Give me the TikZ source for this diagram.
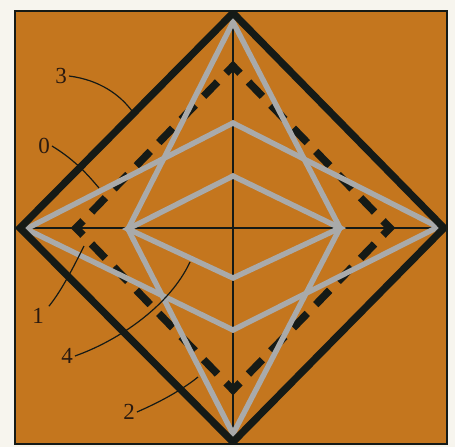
\documentclass[tikz,border=0pt]{standalone}
\usepackage{fontspec}
\setmainfont{Liberation Serif}
\usetikzlibrary{calc}
\definecolor{paper}{HTML}{F7F5EE}
\definecolor{orangebg}{HTML}{C4761E}
\definecolor{lineblack}{HTML}{151A16}
\definecolor{greyline}{HTML}{A9AAAA}
\definecolor{labelc}{HTML}{2A1A10}
\begin{document}
\begin{tikzpicture}[x=1pt,y=-1pt,
  blk/.style={line width=7.2pt, draw=lineblack, line join=miter},
  gry/.style={line width=5.4pt, draw=greyline, line join=miter},
  dsh/.style={line width=7.5pt, draw=lineblack, dash pattern=on 20pt off 12.23pt, dash phase=26.115pt},
  axisline/.style={line width=1.2pt, draw=lineblack},
  lbl/.style={font=\fontsize{23}{23}\selectfont, text=labelc, inner sep=2pt},
  lead/.style={line width=1.2pt, draw=lineblack}]
\useasboundingbox (0,0) rectangle (455,447);
\fill[paper] (0,0) rectangle (455,447);
\fill[orangebg] (15,11) rectangle (447,444);
% vertices
\coordinate (T3) at (233,13);  \coordinate (B3) at (233,442);
\coordinate (L3) at (20,228);  \coordinate (R3) at (444,228);
\coordinate (T2) at (233,22);  \coordinate (B2) at (233,434);
\coordinate (L2) at (128,229); \coordinate (R2) at (340,228);
\coordinate (T1) at (233,123); \coordinate (B1) at (233,330);
\coordinate (L1) at (26,229);  \coordinate (R1) at (438,227);
\coordinate (T4) at (233,176); \coordinate (B4) at (233,278);
\coordinate (T0) at (233,66);  \coordinate (B0) at (233,390);
\coordinate (L0) at (76,228);  \coordinate (R0) at (390,228);
\coordinate (M0) at ($(T0)!0.5!(R0)$);
\begin{scope}
\clip (15,11) rectangle (447,444);
% axes
\draw[axisline] (L3) -- (R3);
\draw[axisline] (T3) -- (B3);
% dashed diamond 0
\draw[dsh] (M0) -- (R0) -- (B0) -- (L0) -- (T0) -- (M0);
% grey shapes
\draw[gry] (L1) -- (T1) -- (R1) -- (B1) -- cycle;
\draw[gry] (L2) -- (T4) -- (R2) -- (B4) -- cycle;
\draw[gry] (L2) -- (T2) -- (R2) -- (B2) -- cycle;
% black diamond 3
\draw[blk] (L3) -- (T3) -- (R3) -- (B3) -- cycle;
\end{scope}
\draw[line width=1.5pt, draw=lineblack] (15,11) rectangle (447,444);
% labels
\node[lbl] (lab3) at (61,76) {3};
\node[lbl] (lab0) at (44,146) {0};
\node[lbl] (lab1) at (38,316) {1};
\node[lbl] (lab4) at (67,356) {4};
\node[lbl] (lab2) at (129,412) {2};
\coordinate (e3) at (132,111);
\coordinate (e0) at (99,188);
\coordinate (e1) at (84,246);
\coordinate (e4) at (190,262);
\coordinate (e2) at (198,377);
\draw[lead] (lab3.east) .. controls (100,80) and (120,95) .. (e3);
\draw[lead] (lab0.east) .. controls (75,160) and (88,175) .. (e0);
\draw[lead] ([xshift=3pt]lab1.north east) .. controls (62,290) and (74,266) .. (e1);
\draw[lead] (lab4.east) .. controls (120,340) and (170,305) .. (e4);
\draw[lead] (lab2.east) .. controls (160,402) and (182,390) .. (e2);
\end{tikzpicture}
\end{document}
